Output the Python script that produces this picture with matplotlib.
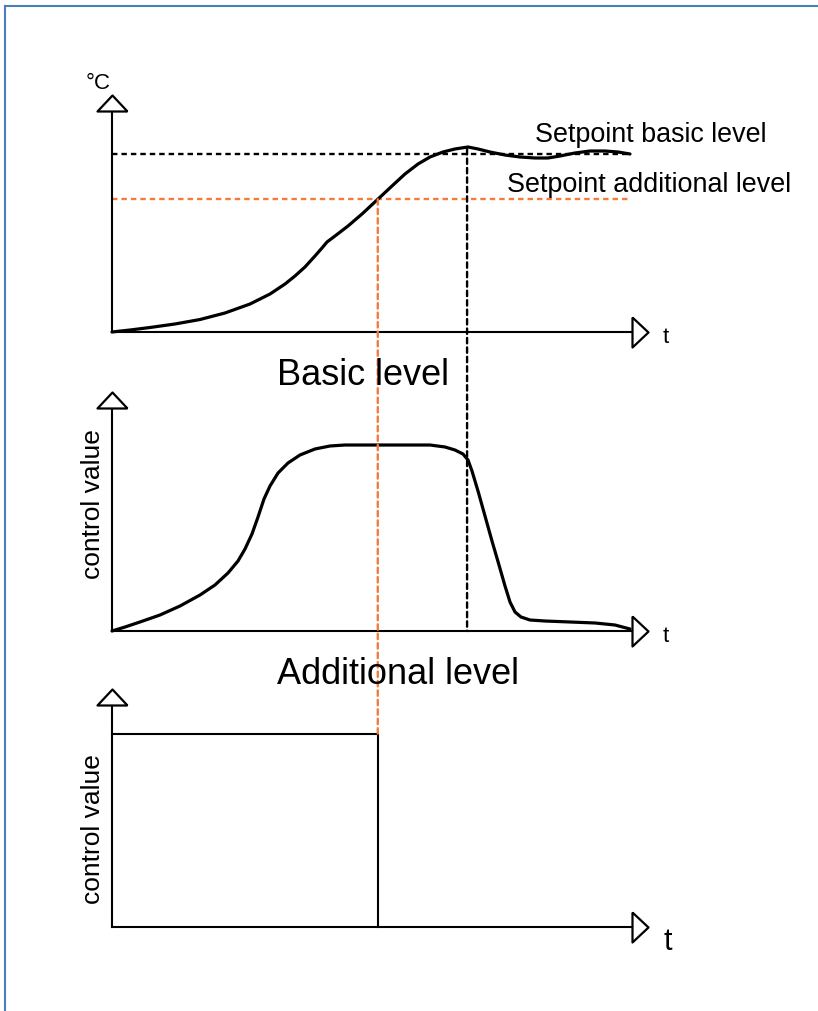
import matplotlib
matplotlib.use("Agg")
import matplotlib.pyplot as plt
from matplotlib.patches import ConnectionPatch
from matplotlib.lines import Line2D

# ---------------- data ----------------
# Panel 1: room temperature (arbitrary units 0..100) over time (0..100)
temp_t = [0, 3.35, 7.06, 11.71, 16.36, 21.00, 25.65, 29.37, 32.16, 34.01, 35.87, 37.73,
          39.03, 39.96, 41.45, 43.87, 46.47, 49.26, 52.04, 54.46, 56.88, 59.11, 61.52,
          63.75, 66.17, 68.03, 70.26, 73.05, 75.84, 78.62, 81.04, 83.27, 86.06, 88.85,
          91.64, 94.05, 96.28]
temp_v = [0, 0.84, 1.90, 3.38, 5.27, 8.02, 11.81, 16.03, 20.25, 23.63, 27.43, 32.07,
          35.44, 37.97, 40.51, 44.73, 49.79, 55.70, 61.60, 66.67, 70.89, 73.84, 75.95,
          77.22, 78.06, 77.22, 75.95, 74.68, 73.84, 73.42, 73.42, 74.26, 75.53, 76.37,
          76.37, 75.95, 75.11]
setpoint_basic = 75
setpoint_additional = 56
setpoint_end = 96

# Panel 2: control value of basic level
basic_t = [0, 2.42, 5.20, 8.92, 12.64, 16.36, 19.14, 21.56, 23.42, 24.72, 26.02, 27.14,
           28.25, 29.37, 30.86, 32.71, 34.94, 37.73, 40.52, 43.31, 53.53, 59.11, 61.90,
           63.75, 65.24, 66.17, 66.91, 68.03, 69.33, 70.63, 71.93, 73.05, 73.98, 74.91,
           76.02, 77.70, 80.48, 85.13, 89.78, 93.49, 96.28]
basic_v = [0, 1.67, 3.77, 6.69, 10.46, 15.06, 19.25, 24.27, 29.29, 34.31, 40.59, 47.70,
           55.23, 60.67, 66.11, 70.29, 73.64, 76.15, 77.41, 77.82, 77.82, 77.82, 76.99,
           75.73, 74.06, 71.55, 66.95, 58.58, 48.12, 37.66, 27.62, 18.83, 12.13, 7.95,
           5.86, 4.60, 4.18, 3.77, 3.35, 2.51, 0.84]

# Panel 3: control value of additional level (on/off)
add_t = [0, 49.4, 49.4]
add_v = [81, 81, 0]

t_reach_additional = 49.4
t_reach_basic = 66.0
peak_temp = 77.2

# ---------------- layout ----------------
W, H = 818, 1012
fig = plt.figure(figsize=(W / 100, H / 100), dpi=100)
fig.patch.set_facecolor("white")
FONT = "Liberation Sans"
ORANGE = "#F47B3A"
DASH = (0, (2.3, 1.7))


def px_axes(left, right, bottom, top):
    ax = fig.add_axes([left / W, 1 - bottom / H, (right - left) / W, (bottom - top) / H])
    ax.set_xlim(0, 100)
    ax.set_ylim(0, 100)
    ax.axis("off")
    return ax


ax1 = px_axes(112, 650, 333, 96)
ax2 = px_axes(112, 650, 632, 393)
ax3 = px_axes(112, 650, 928, 690)

# arrow heads: base at origin, length 16 px, half width 15 px
right_head = [(0, 15), (0, -15), (16, 0), (0, 15)]
up_head = [(15, 0), (-15, 0), (0, 16), (15, 0)]
MS = 2 * 16 * 0.72
X_END, Y_END = 96.7, 93.3

for ax in (ax1, ax2, ax3):
    ax.plot([0, X_END], [0, 0], color="black", lw=1.5, clip_on=False, zorder=3)
    ax.plot([0, 0], [0, Y_END], color="black", lw=1.5, clip_on=False, zorder=3)
    ax.plot([X_END], [0], marker=right_head, ms=MS, mfc="white", mec="black",
            mew=1.6, clip_on=False, zorder=4)
    ax.plot([0], [Y_END], marker=up_head, ms=MS, mfc="white", mec="black",
            mew=1.6, clip_on=False, zorder=4)

# panel 1
ax1.plot([0, setpoint_end], [setpoint_basic, setpoint_basic], color="black",
         lw=1.7, ls=DASH, clip_on=False, zorder=1)
ax1.plot([0, setpoint_end], [setpoint_additional, setpoint_additional], color=ORANGE,
         lw=1.7, ls=DASH, clip_on=False, zorder=1)
ax1.plot(temp_t, temp_v, color="black", lw=2.3, solid_joinstyle="round",
         solid_capstyle="round", clip_on=False, zorder=5)

# panel 2
ax2.plot(basic_t, basic_v, color="black", lw=2.3, solid_joinstyle="round",
         solid_capstyle="round", clip_on=False, zorder=5)

# panel 3
ax3.plot(add_t, add_v, color="black", lw=1.5, clip_on=False, zorder=5)

# vertical dashed connectors across panels
con_b = ConnectionPatch(xyA=(t_reach_basic, peak_temp), coordsA=ax1.transData,
                        xyB=(t_reach_basic, 0), coordsB=ax2.transData,
                        color="black", lw=1.7, linestyle=DASH, zorder=1)
fig.add_artist(con_b)
con_a = ConnectionPatch(xyA=(t_reach_additional, setpoint_additional), coordsA=ax1.transData,
                        xyB=(t_reach_additional, add_v[0]), coordsB=ax3.transData,
                        color=ORANGE, lw=1.7, linestyle=DASH, zorder=1)
fig.add_artist(con_a)


def ftext(x, y, s, size, **kw):
    fig.text(x / W, 1 - y / H, s, fontsize=size, family=FONT, color="black", **kw)


ftext(111, 89, "°C", 16, ha="right", va="baseline")
ftext(663, 343, "t", 16, ha="left", va="baseline")
ftext(663, 642, "t", 16, ha="left", va="baseline")
ftext(663, 950, "t", 22, ha="left", va="baseline")
ftext(535, 142, "Setpoint basic level", 19.4, ha="left", va="baseline")
ftext(507, 192, "Setpoint additional level", 19.4, ha="left", va="baseline")
ftext(277, 385, "Basic level", 26, ha="left", va="baseline")
ftext(277, 684, "Additional level", 26, ha="left", va="baseline")
ftext(93, 504, "control value", 19, ha="center", va="center", rotation=90)
ftext(93, 829, "control value", 19, ha="center", va="center", rotation=90)

# blue frame (top and left)
BLUE = "#4A7EBB"
fig.add_artist(Line2D([5 / W, 1], [1 - 6.5 / H, 1 - 6.5 / H], color=BLUE, lw=1.5))
fig.add_artist(Line2D([5 / W, 5 / W], [0, 1 - 6.5 / H], color=BLUE, lw=1.5))

fig.savefig("out.png", dpi=100, facecolor="white")
